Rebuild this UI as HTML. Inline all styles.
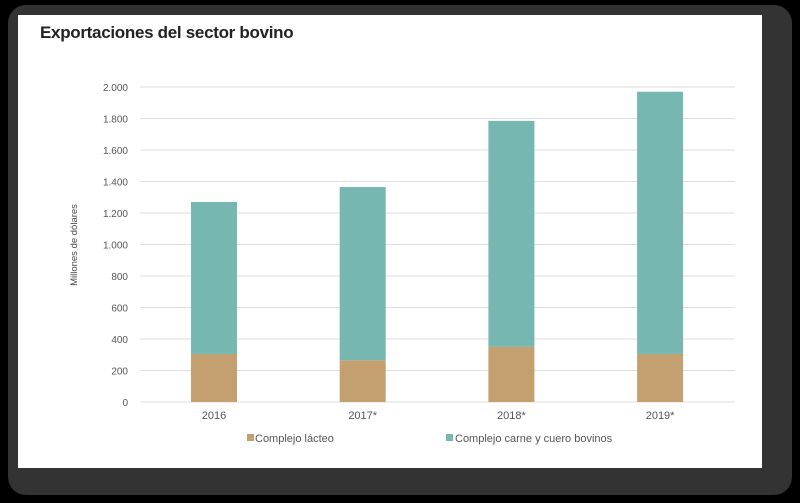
<!DOCTYPE html>
<html><head><meta charset="utf-8"><style>
body{margin:0;width:800px;height:503px;background:#000;overflow:hidden;font-family:"Liberation Sans",sans-serif}
#frame{position:absolute;left:8px;top:5px;width:784px;height:490px;background:#333;border-radius:18px}
#card{position:absolute;left:18px;top:15px;width:744px;height:453px;background:#fff}
#title{position:absolute;left:40px;top:23px;font-size:17px;font-weight:bold;color:#222;letter-spacing:-0.3px}
svg{position:absolute;left:0;top:0}
</style></head><body>
<div id="frame"></div>
<div id="card"></div>
<div id="title">Exportaciones del sector bovino</div>
<svg id="chart" width="800" height="503"></svg>
<script>
const categories=["2016","2017*","2018*","2019*"];
const lacteo=[305,265,350,305];
const carne=[965,1100,1435,1665];
const ticks=[0,200,400,600,800,1000,1200,1400,1600,1800,2000];
const tickLabels=["0","200","400","600","800","1.000","1.200","1.400","1.600","1.800","2.000"];
const NS="http://www.w3.org/2000/svg";
const svg=document.getElementById('chart');
const y=v=>402-v*(315/2000);
const xc=i=>214+i*148.7;
function mk(t,a){const e=document.createElementNS(NS,t);for(const k in a)e.setAttribute(k,a[k]);svg.appendChild(e);return e;}
ticks.forEach((t,i)=>{
 const l=mk('line',{x1:140,x2:735,y1:y(t),y2:y(t),stroke:'#ddd','stroke-width':1});
 
 
 const tx=mk('text',{x:128,y:y(t)+4,'text-anchor':'end','font-size':10,fill:'#555'});
 tx.textContent=tickLabels[i];
 
 
});
categories.forEach((c,i)=>{
 const b1=mk('rect',{x:xc(i)-23,y:y(lacteo[i]),width:46,height:y(0)-y(lacteo[i]),fill:'#c4a070'});
 
 
 const top=lacteo[i]+carne[i];
 const b2=mk('rect',{x:xc(i)-23,y:y(top),width:46,height:y(lacteo[i])-y(top),fill:'#76b7b2'});
 
 
 const t=mk('text',{x:xc(i),y:419,'text-anchor':'middle','font-size':11,fill:'#555'});
 t.textContent=c;
 
 
});
const yt=mk('text',{transform:'translate(77,245) rotate(-90)','text-anchor':'middle','font-size':9.5,fill:'#444'});
yt.textContent='Millones de dólares';


const s1=mk('rect',{x:247,y:434,width:7,height:7,fill:'#c4a070'});


const l1=mk('text',{x:255,y:442,'font-size':11,fill:'#555'});
l1.textContent='Complejo lácteo';


const s2=mk('rect',{x:446,y:434,width:7,height:7,fill:'#76b7b2'});


const l2=mk('text',{x:455,y:442,'font-size':11,fill:'#555'});
l2.textContent='Complejo carne y cuero bovinos';


</script>
</body></html>
